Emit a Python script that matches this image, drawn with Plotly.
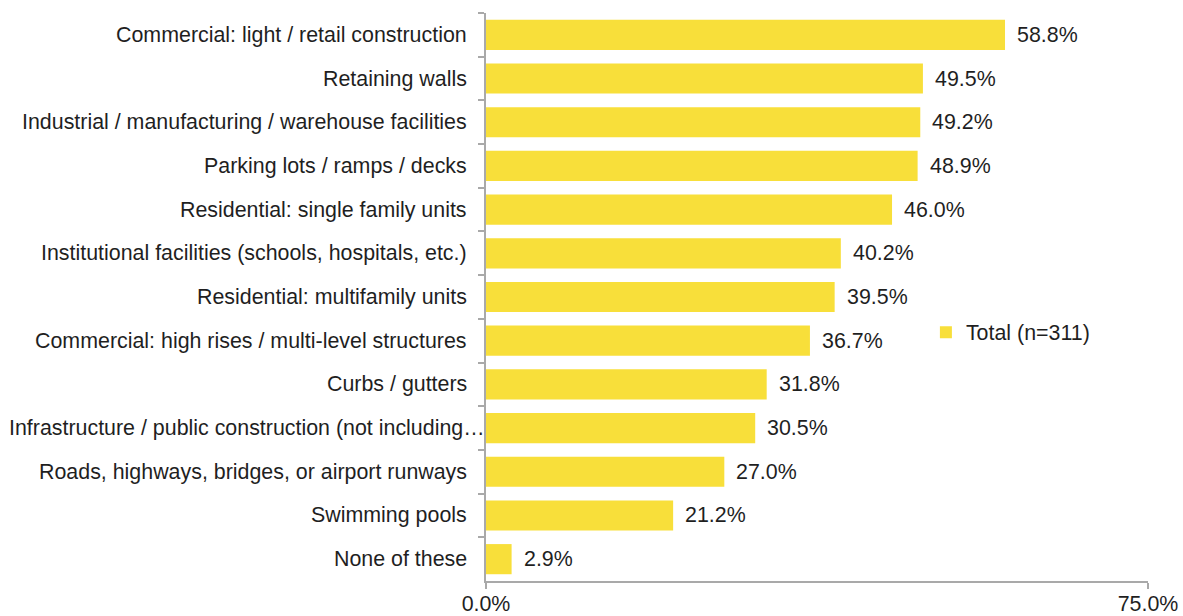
import plotly.graph_objects as go

categories = [
    "Commercial: light / retail construction",
    "Retaining walls",
    "Industrial / manufacturing / warehouse facilities",
    "Parking lots / ramps / decks",
    "Residential: single family units",
    "Institutional facilities (schools, hospitals, etc.)",
    "Residential: multifamily units",
    "Commercial: high rises / multi-level structures",
    "Curbs / gutters",
    "Infrastructure / public construction (not including…",
    "Roads, highways, bridges, or airport runways",
    "Swimming pools",
    "None of these",
]
values = [58.8, 49.5, 49.2, 48.9, 46.0, 40.2, 39.5, 36.7, 31.8, 30.5, 27.0, 21.2, 2.9]
series_name = "Total (n=311)"
x_ticks = [0, 75]
x_tick_labels = ["0.0%", "75.0%"]

FONT = "Liberation Sans, Arial, Helvetica, sans-serif"
FS = 21.4
TEXT = "#1f1f1f"
BAR = "#F8DF3A"
AXIS = "#A9A9A9"

fig = go.Figure()
fig.add_trace(go.Bar(
    x=values,
    y=categories,
    orientation="h",
    name=series_name,
    marker=dict(color=BAR, line=dict(width=0)),
    showlegend=True,
))

# value labels to the right of each bar
for cat, v in zip(categories, values):
    fig.add_annotation(
        x=v, y=cat, xref="x", yref="y",
        text=f"{v:.1f}%", showarrow=False,
        xanchor="left", yanchor="middle", xshift=10,
        font=dict(family=FONT, size=FS, color=TEXT),
    )

# category labels left of the axis; the truncated long label runs up to the axis line
for cat in categories:
    long_label = cat.endswith("…")
    fig.add_annotation(
        x=0, y=cat, xref="paper", yref="y",
        text=cat, showarrow=False,
        xanchor="right", yanchor="middle",
        xshift=1 if long_label else -17,
        font=dict(family=FONT, size=FS, color=TEXT),
    )

fig.update_layout(
    width=1183, height=616,
    margin=dict(l=486, r=35, t=13, b=35, autoexpand=False),
    paper_bgcolor="white", plot_bgcolor="white",
    bargap=0.31,
    font=dict(family=FONT, size=FS, color=TEXT),
    legend=dict(
        x=0.6645, y=0.438, xanchor="left", yanchor="middle",
        font=dict(family=FONT, size=FS, color=TEXT),
        bgcolor="rgba(0,0,0,0)", itemwidth=30,
    ),
    xaxis=dict(
        range=[0, 75], tickvals=x_ticks, ticktext=x_tick_labels,
        automargin=False,
        showgrid=True, gridcolor=AXIS, gridwidth=1.5,
        zeroline=False, showline=True, linecolor=AXIS, linewidth=1.5,
        ticks="outside", ticklen=6, tickcolor=AXIS, tickwidth=1.5,
        ticklabelstandoff=-3,
        tickfont=dict(family=FONT, size=FS, color=TEXT),
    ),
    yaxis=dict(
        autorange="reversed", automargin=False,
        showgrid=False, zeroline=False,
        showline=True, linecolor=AXIS, linewidth=1.5,
        ticks="outside", tickson="boundaries", ticklen=6,
        tickcolor=AXIS, tickwidth=1.5,
        showticklabels=False,
    ),
)

fig.write_html("out.html")
